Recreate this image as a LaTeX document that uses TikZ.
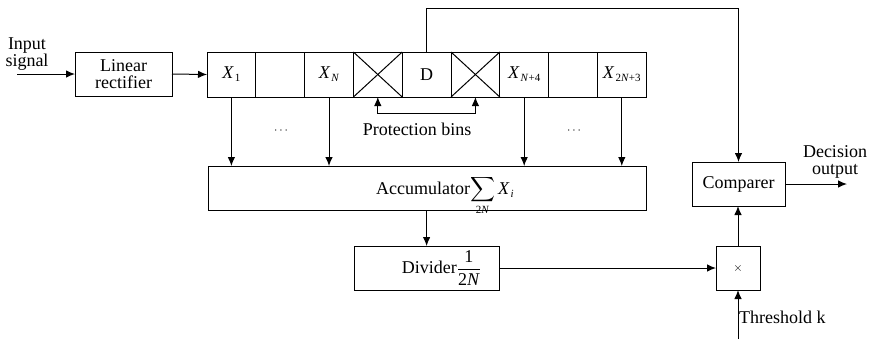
\documentclass[tikz,border=0pt]{standalone}
\usepackage{exscale}
\usepackage{fontspec}
\setmainfont{Liberation Serif}
\usetikzlibrary{arrows.meta}
\newcommand{\vx}[1]{\textit{X}\kern1pt\raisebox{-3pt}{\fontsize{11}{11}\selectfont #1}}
\begin{document}
\begin{tikzpicture}[x=1pt,y=-1pt,
  >={Latex[length=9pt,width=7.5pt]},
  every node/.style={font=\fontsize{18}{17}\selectfont},
  blk/.style={draw,line width=1pt,inner sep=0pt,outer sep=0pt,align=center},
  cell/.style={blk,minimum width=48.8pt,minimum height=45pt},
  lbl/.style={align=center,inner sep=0pt},
  arr/.style={line width=1pt,->},
  ln/.style={line width=1pt}]
\useasboundingbox (0,0) rectangle (873,341);

% front end
\node[lbl] (insig) at (27,54) {Input\\signal};
\coordinate (inp) at (17,74);
\node[blk,minimum width=97pt,minimum height=44pt] (rect) at (123.5,74) {Linear\\rectifier};

% register of range bins
\node[cell] (c1) at (231.4,74.5) {\vx{1}};
\node[cell] (c2) at (280.2,74.5) {};
\node[cell] (c3) at (329.0,74.5) {\vx{\textit{N}}};
\node[cell] (c4) at (377.8,74.5) {};
\node[cell] (c5) at (426.6,74.5) {D};
\node[cell] (c6) at (475.4,74.5) {};
\node[cell] (c7) at (524.2,74.5) {\vx{\textit{N}+4}};
\node[cell] (c8) at (573.0,74.5) {};
\node[cell] (c9) at (621.8,74.5) {\vx{2\textit{N}+3}};
\foreach \c in {c4,c6}{
  \draw[ln] (\c.north west) -- (\c.south east);
  \draw[ln] (\c.south west) -- (\c.north east);
}

% processing blocks
\node[blk,minimum width=438pt,minimum height=44pt,text height=12pt,text depth=0pt] (acc) at (427,188)
  {\hspace*{36pt}Accumulator$\displaystyle\sum_{\mbox{\fontsize{11}{11}\selectfont 2\textit{N}}}$\,\vx{\textit{i}}};
\node[blk,minimum width=145pt,minimum height=44pt] (div) at (426.5,268)
  {\hspace*{30pt}Divider$\displaystyle\frac{\mbox{1}}{\mbox{2\textit{N}}}$};
\node[blk,minimum width=44pt,minimum height=44pt] (mult) at (738,268) {\fontsize{12}{12}\selectfont$\times$};
\node[blk,minimum width=93pt,minimum height=44pt] (comp) at (738.5,184) {Comparer};

% labels
\node[lbl] (pbins) at (417,129) {Protection bins};
\node[lbl] (dots1) at (281,131) {\fontsize{12}{12}\selectfont$\cdots$};
\node[lbl] (dots2) at (574,131) {\fontsize{12}{12}\selectfont$\cdots$};
\node[lbl] (dec) at (835,162) {Decision\\output};
\node[lbl,anchor=west] (thr) at (739,317) {Threshold k};
\coordinate (outp) at (847,184);
\coordinate (kin) at (738,339);

% connectors
\draw[arr] (inp) -- (rect.west);
\draw[arr] (rect.east) -- (c1.west);
\draw[arr] (c5.north) -- ++(0,-44) -| (comp.north);
\draw[ln,<->] (c4.south) -- ++(0,16) -| (c6.south);
\foreach \c in {c1,c3,c7,c9}{
  \draw[arr] (\c.south) -- (\c.south |- acc.north);
}
\draw[arr] (acc.south -| c5) -- (div.north -| c5);
\draw[arr] (div.east) -- (mult.west);
\draw[arr] (mult.north) -- (mult.north |- comp.south);
\draw[arr] (comp.east) -- (outp);
\draw[arr] (kin) -- (mult.south);
\end{tikzpicture}
\end{document}
